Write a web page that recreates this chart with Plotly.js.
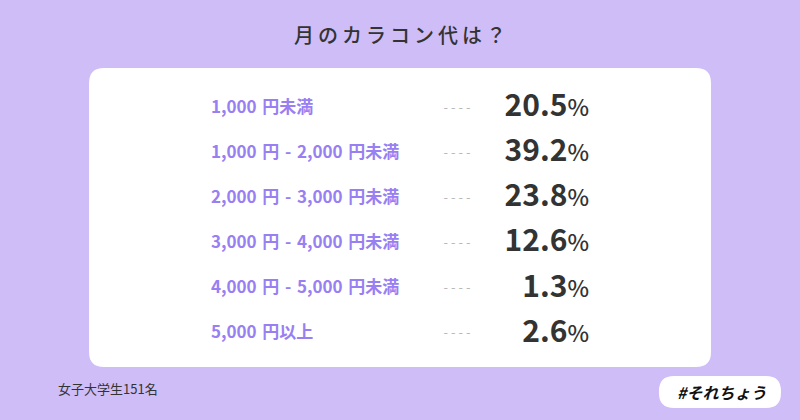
<!DOCTYPE html>
<html>
<head>
<meta charset="utf-8">
<script src="https://cdn.plot.ly/plotly-3.0.1.min.js"></script>
<style>
  html, body { margin: 0; padding: 0; background: #cfbdf7; }
  #chart { width: 800px; height: 420px; }
</style>
</head>
<body>
<div id="chart"></div>
<script>
var categories = ["1,000 円未満", "1,000 円 - 2,000 円未満", "2,000 円 - 3,000 円未満",
                  "3,000 円 - 4,000 円未満", "4,000 円 - 5,000 円未満", "5,000 円以上"];
var shares = [20.5, 39.2, 23.8, 12.6, 1.3, 2.6];
var chartTitle = "月のカラコン代は？";
var sampleNote = "女子大学生151名";
var tagText = "#それちょう";

var W = 800, H = 420;
var FONT = "Noto Sans CJK JP, Noto Sans, sans-serif";

// rounded rect in pixel coords -> paper path
function roundRect(x0, y0, x1, y1, r) {
  function px(x) { return (x / W).toFixed(4); }
  function py(y) { return (1 - y / H).toFixed(4); }
  return "M " + px(x0 + r) + "," + py(y0) +
    " L " + px(x1 - r) + "," + py(y0) +
    " Q " + px(x1) + "," + py(y0) + " " + px(x1) + "," + py(y0 + r) +
    " L " + px(x1) + "," + py(y1 - r) +
    " Q " + px(x1) + "," + py(y1) + " " + px(x1 - r) + "," + py(y1) +
    " L " + px(x0 + r) + "," + py(y1) +
    " Q " + px(x0) + "," + py(y1) + " " + px(x0) + "," + py(y1 - r) +
    " L " + px(x0) + "," + py(y0 + r) +
    " Q " + px(x0) + "," + py(y0) + " " + px(x0 + r) + "," + py(y0) + " Z";
}

var valueText = shares.map(function (v) {
  return v.toFixed(1) + "<span style='font-size:23px;font-weight:500'>%</span>";
});

// slightly wider spaces in the labels, letter-spaced title
var labelText = categories.map(function (c) { return c.replace(/ /g, "\u2004"); });
var spacedTitle = chartTitle.split("").join("\u2009");

var labels = {
  x: categories.map(function () { return 211; }),
  y: categories,
  mode: "text",
  text: labelText,
  textposition: "middle right",
  textfont: { family: FONT, size: 17, color: "#9880f2", weight: 600 },
  hoverinfo: "none"
};

var dashes = {
  x: categories.map(function () { return 457; }),
  y: categories,
  mode: "text",
  text: categories.map(function () { return "- - - -"; }),
  textposition: "middle center",
  textfont: { family: FONT, size: 13, color: "#b8b8b8" },
  hoverinfo: "none"
};

var values = {
  x: categories.map(function () { return 589; }),
  y: categories,
  mode: "text",
  text: valueText,
  textposition: "middle left",
  textfont: { family: FONT, size: 30, color: "#333333", weight: 700 },
  hoverinfo: "none"
};

var layout = {
  width: W, height: H,
  margin: { l: 0, r: 0, t: 0, b: 0 },
  paper_bgcolor: "#cfbdf7",
  plot_bgcolor: "rgba(0,0,0,0)",
  showlegend: false,
  xaxis: { range: [0, W], visible: false, fixedrange: true },
  yaxis: { type: "category", categoryorder: "array", categoryarray: categories,
           range: [6.91, -2.42], visible: false, fixedrange: true },
  shapes: [
    { type: "path", xref: "paper", yref: "paper", path: roundRect(89, 68, 711, 367, 15),
      fillcolor: "#ffffff", line: { width: 0 }, layer: "below" },
    { type: "path", xref: "paper", yref: "paper", path: roundRect(659, 376, 781, 408, 15),
      fillcolor: "#ffffff", line: { width: 0 }, layer: "below" }
  ],
  annotations: [
    { text: spacedTitle, xref: "paper", yref: "paper", x: 0.5, y: 1 - 34 / H,
      showarrow: false, xanchor: "center", yanchor: "middle",
      font: { family: FONT, size: 20, color: "#333333", weight: 500 } },
    { text: sampleNote, xref: "paper", yref: "paper", x: 56 / W, y: 1 - 388 / H,
      showarrow: false, xanchor: "left", yanchor: "middle",
      font: { family: FONT, size: 13, color: "#333333" } },
    { text: "<i>" + tagText + "</i>", xref: "paper", yref: "paper", x: 721 / W, y: 1 - 392 / H,
      showarrow: false, xanchor: "center", yanchor: "middle",
      font: { family: FONT, size: 16, color: "#111111", weight: 700 } }
  ]
};

Plotly.newPlot("chart", [labels, dashes, values], layout, { displayModeBar: false, staticPlot: true });
</script>
</body>
</html>
